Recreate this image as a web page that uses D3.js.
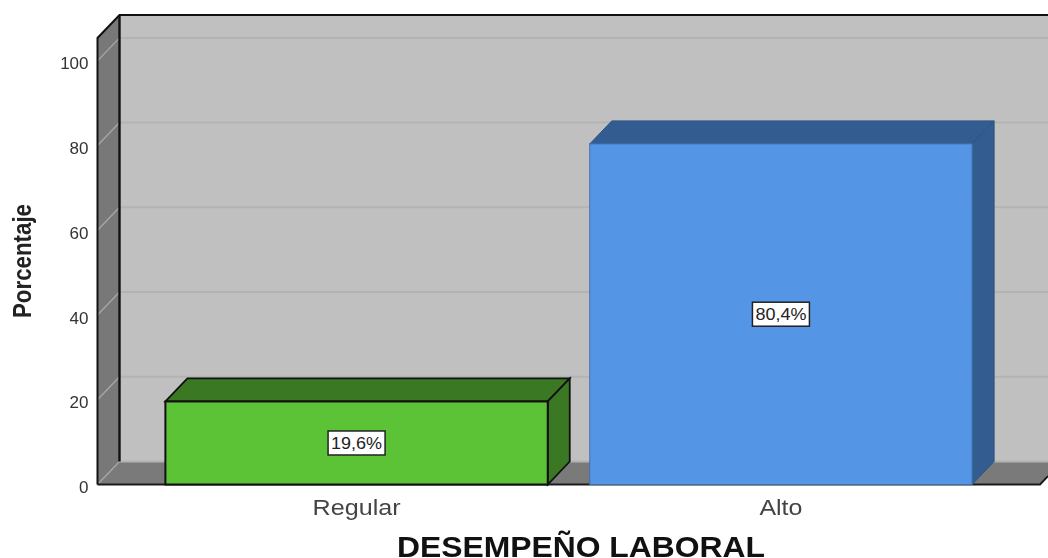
<!DOCTYPE html>
<html>
<head>
<meta charset="utf-8">
<script src="https://cdnjs.cloudflare.com/ajax/libs/d3/7.8.5/d3.min.js"></script>
<style>
  html, body { margin: 0; padding: 0; background: #fff; }
  svg { display: block; filter: blur(0.45px); }
  text { font-family: "Liberation Sans", Arial, sans-serif; }
</style>
</head>
<body>
<div id="chart"></div>
<script>
var categories = ["Regular", "Alto"];
var percentages = [19.6, 80.4];
var valueLabels = ["19,6%", "80,4%"];
var yTicks = [0, 20, 40, 60, 80, 100];
var barColors = ["#5cc236", "#5595e6"];
var barDarkColors = ["#3b7823", "#335c90"];
var barStrokes = ["#111", "#3f70ad"];

var width = 1048, height = 558;
var dx = 22, dy = 23; // depth of the 3d box

var svg = d3.select("#chart").append("svg")
  .attr("width", width)
  .attr("height", height);

var x = d3.scaleBand()
  .domain(categories)
  .range([97.5, 1040])
  .paddingInner(0.099)
  .paddingOuter(0.16);

var y = d3.scaleLinear()
  .domain([0, 105.4])
  .range([484.5, 38]);

var x0 = x.range()[0], x1 = x.range()[1];
var y0 = y(0), yTop = y.range()[1];

function poly(points) {
  return "M" + points.map(function(p) { return p.join(","); }).join("L") + "Z";
}

// back wall
svg.append("rect")
  .attr("x", x0 + dx)
  .attr("y", yTop - dy)
  .attr("width", width - x0 - dx)
  .attr("height", y0 - yTop)
  .style("fill", "#c0c0c0");

// left wall and floor
svg.append("path")
  .attr("d", poly([[x0, yTop], [x0 + dx, yTop - dy], [x0 + dx, y0 - dy], [x0, y0]]))
  .style("fill", "#787878");
svg.append("path")
  .attr("d", poly([[x0, y0], [x0 + dx, y0 - dy], [x1 + dx, y0 - dy], [x1, y0]]))
  .style("fill", "#7a7a7a");

// grid lines, wall part then back part
var grid = svg.append("g").attr("class", "grid");
grid.selectAll(".side").data(yTicks).enter().append("line")
  .attr("x1", x0)
  .attr("y1", function(d) { return y(d); })
  .attr("x2", x0 + dx)
  .attr("y2", function(d) { return y(d) - dy; })
  .style("stroke", "#a6a6a6")
  .style("stroke-width", 1.4);
grid.selectAll(".back").data(yTicks).enter().append("line")
  .attr("x1", x0 + dx)
  .attr("y1", function(d) { return y(d) - dy; })
  .attr("x2", width)
  .attr("y2", function(d) { return y(d) - dy; })
  .style("stroke", "#b3b3b3")
  .style("stroke-width", 2);

// box outline
svg.append("path")
  .attr("d", "M" + x0 + "," + y0 + "L" + x0 + "," + yTop + "L" + (x0 + dx) + "," + (yTop - dy) +
    "L" + width + "," + (yTop - dy))
  .style("fill", "none")
  .style("stroke", "#111")
  .style("stroke-width", 2);
svg.append("line")
  .attr("x1", x0 + dx).attr("y1", yTop - dy)
  .attr("x2", x0 + dx).attr("y2", y0 - dy)
  .style("stroke", "#111")
  .style("stroke-width", 2.4);
svg.append("path")
  .attr("d", "M" + x0 + "," + y0 + "L" + x1 + "," + y0 + "L" + width + "," + (y0 - (width - x1) * dy / dx))
  .style("fill", "none")
  .style("stroke", "#1a1a1a")
  .style("stroke-width", 2);

// bars
var bars = svg.append("g").selectAll("g")
  .data(categories)
  .enter().append("g");

bars.append("path")
  .attr("d", function(d, i) {
    var l = x(d), r = l + x.bandwidth(), t = y(percentages[i]);
    return poly([[l, t], [l + dx, t - dy], [r + dx, t - dy], [r, t]]);
  })
  .style("fill", function(d, i) { return barDarkColors[i]; })
  .style("stroke", function(d, i) { return i == 0 ? "#111" : "#2e5484"; })
  .style("stroke-width", function(d, i) { return i == 0 ? 1.8 : 1; });

bars.append("path")
  .attr("d", function(d, i) {
    var r = x(d) + x.bandwidth(), t = y(percentages[i]);
    return poly([[r, t], [r + dx, t - dy], [r + dx, y0 - dy], [r, y0]]);
  })
  .style("fill", function(d, i) { return barDarkColors[i]; })
  .style("stroke", function(d, i) { return i == 0 ? "#111" : "#2e5484"; })
  .style("stroke-width", function(d, i) { return i == 0 ? 1.8 : 1; });

bars.append("rect")
  .attr("x", function(d) { return x(d); })
  .attr("y", function(d, i) { return y(percentages[i]); })
  .attr("width", x.bandwidth())
  .attr("height", function(d, i) { return y0 - y(percentages[i]); })
  .style("fill", function(d, i) { return barColors[i]; })
  .style("stroke", function(d, i) { return barStrokes[i]; })
  .style("stroke-width", function(d, i) { return i == 0 ? 2 : 1; });

// value labels
bars.append("rect")
  .attr("x", function(d) { return x(d) + x.bandwidth() / 2 - 28.5; })
  .attr("y", function(d, i) { return y(percentages[i] / 2) - 12; })
  .attr("width", 57)
  .attr("height", 24)
  .style("fill", "#fff")
  .style("stroke", "#222")
  .style("stroke-width", 1.5);

bars.append("text")
  .attr("x", function(d) { return x(d) + x.bandwidth() / 2; })
  .attr("y", function(d, i) { return y(percentages[i] / 2) + 6; })
  .attr("text-anchor", "middle")
  .attr("textLength", 51)
  .attr("lengthAdjust", "spacingAndGlyphs")
  .style("font-size", "16.5px")
  .style("fill", "#222")
  .text(function(d, i) { return valueLabels[i]; });

// axes
var yAxis = svg.append("g")
  .attr("transform", "translate(" + x0 + ",0)")
  .call(d3.axisLeft(y).tickValues(yTicks).tickSize(0).tickPadding(9));
yAxis.select(".domain").remove();
yAxis.selectAll("text")
  .attr("dy", "0.47em")
  .style("font-family", '"Liberation Sans", Arial, sans-serif')
  .style("font-size", "17px")
  .style("fill", "#333");

var xAxis = svg.append("g")
  .attr("transform", "translate(0," + y0 + ")")
  .call(d3.axisBottom(x).tickSize(0).tickPadding(15));
xAxis.select(".domain").remove();
xAxis.selectAll("text")
  .attr("textLength", function(d) { return d == "Regular" ? 88 : 43; })
  .attr("lengthAdjust", "spacingAndGlyphs")
  .style("font-family", '"Liberation Sans", Arial, sans-serif')
  .style("font-size", "22px")
  .style("fill", "#444");

// axis titles
svg.append("text")
  .attr("x", 581)
  .attr("y", 556.5)
  .attr("text-anchor", "middle")
  .attr("textLength", 368)
  .attr("lengthAdjust", "spacingAndGlyphs")
  .style("font-size", "30px")
  .style("font-weight", "bold")
  .style("fill", "#111")
  .text("DESEMPEÑO LABORAL");

svg.append("text")
  .attr("transform", "translate(31,261) rotate(-90)")
  .attr("text-anchor", "middle")
  .attr("textLength", 114)
  .attr("lengthAdjust", "spacingAndGlyphs")
  .style("font-size", "26px")
  .style("font-weight", "bold")
  .style("fill", "#222")
  .text("Porcentaje");
</script>
</body>
</html>
